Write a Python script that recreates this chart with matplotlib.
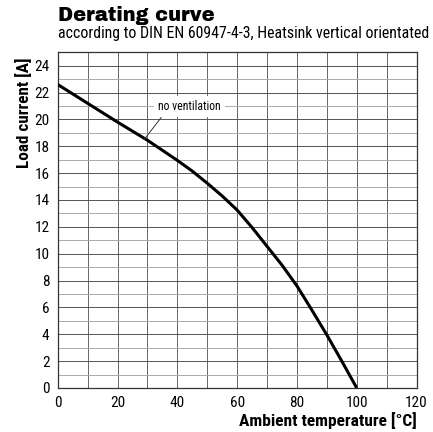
import matplotlib
matplotlib.use('Agg')
from matplotlib import pyplot as plt

# derating curve
temperature = [0, 10, 20, 30, 40, 45, 50, 55, 60, 65, 70, 75, 80, 85, 90, 95, 100]
load_current = [22.6, 21.2, 19.8, 18.45, 16.95, 16.15, 15.25, 14.3, 13.25,
                11.95, 10.55, 9.15, 7.6, 5.8, 3.95, 2.0, 0.0]

x_ticks = [0, 20, 40, 60, 80, 100, 120]
y_ticks = [0, 2, 4, 6, 8, 10, 12, 14, 16, 18, 20, 22, 24]

narrow = ['Roboto Condensed', 'DejaVu Sans']

fig = plt.figure(figsize=(4.33, 4.32), dpi=100)
ax = fig.add_axes([0.1333, 0.1019, 0.8287, 0.7771])

# grid: verticals every 10, horizontals every 1 (odd ones lighter)
for xv in range(10, 120, 10):
    ax.axvline(xv, color='#666666', lw=0.7, zorder=1)
for yv in range(1, 25):
    c = '#555555' if yv % 2 == 0 else '#aaaaaa'
    ax.axhline(yv, color=c, lw=0.7, zorder=1)

ax.plot(temperature, load_current, color='black', lw=2.2, zorder=3,
        solid_capstyle='butt', solid_joinstyle='round')

ax.annotate('no ventilation', xy=(28.9, 18.5), xytext=(44.1, 20.95),
            fontsize=8.5, family=narrow, ha='center', va='center', zorder=4,
            bbox=dict(boxstyle='square,pad=0.35', fc='white', ec='none'),
            arrowprops=dict(arrowstyle='-', color='#333333', lw=0.7,
                            shrinkA=0, shrinkB=0,
                            relpos=(0.1, 0.0)))

ax.set_xlim(0, 120)
ax.set_ylim(0, 25)
ax.set_xticks(x_ticks)
ax.set_yticks(y_ticks)
ax.tick_params(length=0, pad=6)
for lab in ax.get_xticklabels() + ax.get_yticklabels():
    lab.set_family(narrow)
    lab.set_fontsize(11)
for s in ax.spines.values():
    s.set_color('#333333')
    s.set_linewidth(0.9)

# y label sits near the top of the axis, as in the reference
fig.text(0.0554, 0.868, 'Load current [A]', family=narrow, fontweight='bold',
         fontsize=12.3, rotation=90, ha='center', va='top')
ax.set_xlabel('Ambient temperature [°C]', family=narrow, fontweight='bold',
              fontsize=12.5, loc='right', labelpad=1)

fig.text(0.134, 0.951, 'Derating curve', fontsize=14,
         family=['Archivo Black', 'DejaVu Sans'], va='baseline')
fig.text(0.134, 0.912,
         'according to DIN EN 60947-4-3, Heatsink vertical orientated',
         fontsize=11.4, family=narrow, va='baseline')

fig.savefig('out.png', dpi=100)
